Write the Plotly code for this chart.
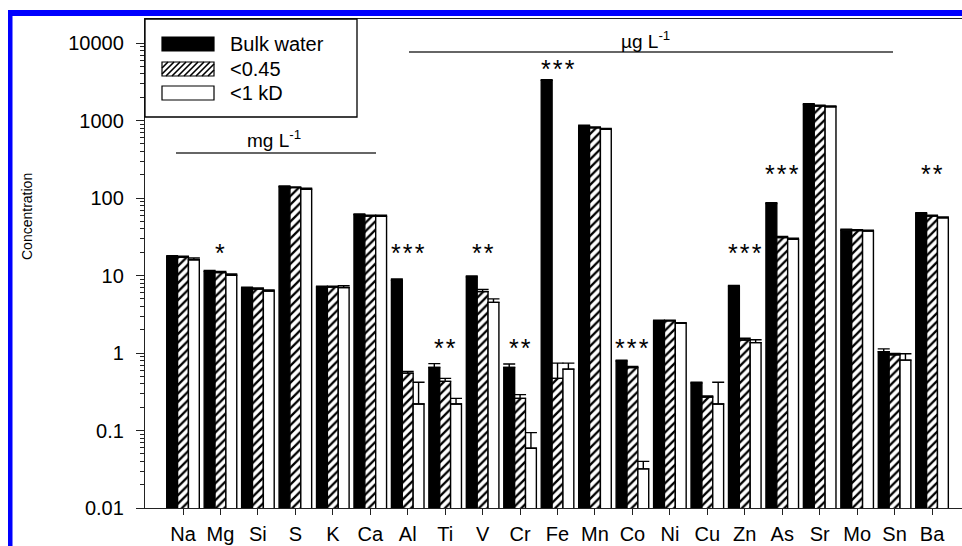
import plotly.graph_objects as go

# ---------------- data ----------------
elements = ["Na", "Mg", "Si", "S", "K", "Ca", "Al", "Ti", "V", "Cr", "Fe",
            "Mn", "Co", "Ni", "Cu", "Zn", "As", "Sr", "Mo", "Sn", "Ba"]
bulk_water = [17.5, 11.3, 6.9, 140, 7.1, 61, 8.7, 0.65, 9.6, 0.65, 3300,
              850, 0.79, 2.6, 0.41, 7.3, 85, 1610, 38.5, 1.04, 63]
filt_045 = [17.2, 10.9, 6.7, 136, 7.1, 58.5, 0.55, 0.43, 6.2, 0.26, 0.47,
            805, 0.65, 2.6, 0.27, 1.47, 31, 1540, 38, 0.95, 58.5]
filt_1kd = [16.0, 10.1, 6.3, 130, 7.0, 58, 0.22, 0.22, 4.5, 0.059, 0.62,
            770, 0.032, 2.42, 0.22, 1.36, 29.3, 1505, 37.5, 0.81, 55.5]
err_bulk = [0.5, 0.3, 0.15, 3, 0.2, 1.5, 0.3, 0.08, 0.3, 0.07, 60,
            20, 0.02, 0.05, 0.01, 0.15, 2, 40, 1, 0.09, 1.5]
err_045 = [0.5, 0.4, 0.2, 3, 0.2, 1.5, 0.03, 0.04, 0.4, 0.03, 0.27,
           20, 0.02, 0.05, 0.01, 0.08, 1, 40, 1, 0.04, 1.5]
err_1kd = [0.8, 0.4, 0.2, 4, 0.4, 2, 0.2, 0.04, 0.5, 0.035, 0.12,
           20, 0.008, 0.05, 0.2, 0.12, 1, 40, 1, 0.17, 1.5]
significance = ["", "*", "", "", "", "", "***", "**", "**", "**", "***",
                "", "***", "", "", "***", "***", "", "", "", "**"]
y_tickvals = [0.01, 0.1, 1, 10, 100, 1000, 10000]
y_ticktext = ["0.01", "0.1", "1", "10", "100", "1000", "10000"]

# ---------------- geometry helpers (pixels -> paper) ----------------
W, H = 962, 546
L, R, T, B = 145, 0, 19, 38
PW, PH = W - L - R, H - T - B


def px(x):
    return (x - L) / PW


def py(y):
    return (H - B - y) / PH


FONT = "Liberation Sans, Arial, sans-serif"

fig = go.Figure()
series = [
    ("Bulk water", bulk_water, err_bulk, dict(color="black")),
    ("<0.45", filt_045, err_045,
     dict(color="white", pattern=dict(shape="/", fgcolor="black", bgcolor="white",
                                      size=6, solidity=0.38, fillmode="replace"))),
    ("<1 kD", filt_1kd, err_1kd, dict(color="white")),
]
for name, vals, errs, mk in series:
    mk = dict(mk)
    mk["line"] = dict(color="black", width=1.4)
    fig.add_trace(go.Bar(
        x=elements, y=vals, name=name, marker=mk,
        error_y=dict(type="data", array=errs, arrayminus=[0] * len(errs),
                     symmetric=False, color="black", thickness=1.4, width=6),
        showlegend=False,
    ))

shapes = []
annotations = []

# significance stars
star_rows = {"Mg": 251, "Al": 251, "V": 251, "Zn": 251,
             "Ti": 346, "Cr": 346, "Co": 346,
             "As": 172, "Ba": 172, "Fe": 67}
for el, sig in zip(elements, significance):
    if sig:
        annotations.append(dict(
            x=el, xref="x", y=py(star_rows[el]), yref="paper",
            text="\u200a".join(sig), showarrow=False,
            xanchor="center", yanchor="middle", yshift=-2,
            font=dict(family=FONT, size=25, color="black")))

# unit bars
shapes.append(dict(type="line", xref="paper", yref="paper",
                   x0=px(176), x1=px(376), y0=py(153), y1=py(153),
                   line=dict(color="#333", width=1.6)))
shapes.append(dict(type="line", xref="paper", yref="paper",
                   x0=px(409), x1=px(893), y0=py(52), y1=py(52),
                   line=dict(color="#333", width=1.6)))
annotations.append(dict(x=px(274), y=py(139), xref="paper", yref="paper",
                        text="mg L<sup>-1</sup>", showarrow=False,
                        xanchor="center", yanchor="middle",
                        font=dict(family=FONT, size=19, color="black")))
annotations.append(dict(x=px(645), y=py(40), xref="paper", yref="paper",
                        text="\u00b5g L<sup>-1</sup>", showarrow=False,
                        xanchor="center", yanchor="middle",
                        font=dict(family=FONT, size=19, color="black")))

# manual legend
shapes.append(dict(type="rect", xref="paper", yref="paper",
                   x0=px(145), x1=px(357), y0=py(19), y1=py(117),
                   line=dict(color="black", width=1.3), fillcolor="white"))
sw_x0, sw_x1 = 162, 214
rows = [(37, 51), (62, 76), (86, 100)]
shapes.append(dict(type="rect", xref="paper", yref="paper",
                   x0=px(sw_x0), x1=px(sw_x1), y0=py(rows[0][1]), y1=py(rows[0][0]),
                   line=dict(color="black", width=1.2), fillcolor="black"))
for (t0, t1) in rows[1:]:
    shapes.append(dict(type="rect", xref="paper", yref="paper",
                       x0=px(sw_x0), x1=px(sw_x1), y0=py(t1), y1=py(t0),
                       line=dict(color="black", width=1.2), fillcolor="white"))
# hatch lines for the <0.45 swatch
t0, t1 = rows[1]
h = t1 - t0
c = sw_x0 - h
while c < sw_x1:
    xa, ya = c, t1
    xb, yb = c + h, t0
    if xa < sw_x0:
        ya = t1 - (sw_x0 - c)
        xa = sw_x0
    if xb > sw_x1:
        yb = t1 - (sw_x1 - c)
        xb = sw_x1
    if xb > xa:
        shapes.append(dict(type="line", xref="paper", yref="paper",
                           x0=px(xa), y0=py(ya), x1=px(xb), y1=py(yb),
                           line=dict(color="black", width=1.6)))
    c += 6
for (name, _, _, _), (r0, r1) in zip(series, rows):
    annotations.append(dict(x=px(228), y=py((r0 + r1) / 2), xref="paper", yref="paper",
                            text=name.replace("<", "&lt;"), showarrow=False,
                            xanchor="left", yanchor="middle",
                            font=dict(family=FONT, size=20, color="black")))

# y-axis title
annotations.append(dict(x=px(27), y=py(217), xref="paper", yref="paper",
                        text="Concentration", showarrow=False, textangle=-90,
                        xanchor="center", yanchor="middle",
                        font=dict(family=FONT, size=14, color="black")))

# blue frame
shapes.append(dict(type="rect", xref="paper", yref="paper",
                   x0=px(8), x1=px(12.5), y0=py(546), y1=py(10),
                   line=dict(width=0), fillcolor="#0000ff"))
shapes.append(dict(type="rect", xref="paper", yref="paper",
                   x0=px(8), x1=px(962), y0=py(16), y1=py(10),
                   line=dict(width=0), fillcolor="#0000ff"))

minor_vals = [m * 10 ** e for e in range(-2, 4) for m in range(2, 10)]

fig.update_layout(
    width=W, height=H,
    margin=dict(l=L, r=R, t=T, b=B, pad=0),
    paper_bgcolor="white", plot_bgcolor="white",
    barmode="group", bargap=0.13, bargroupgap=0,
    font=dict(family=FONT, size=20, color="black"),
    shapes=shapes, annotations=annotations,
    showlegend=False,
)
fig.update_xaxes(
    range=[-1.015, 20.8], showline=True, linecolor="#222", linewidth=1.3,
    mirror=True, ticks="outside", ticklen=6, tickcolor="#222", tickwidth=1.3,
    showgrid=False, zeroline=False, ticklabelstandoff=2,
    tickfont=dict(family=FONT, size=20, color="black"),
)
fig.update_yaxes(
    type="log", range=[-2, 4.31], showline=True, linecolor="#222", linewidth=1.3,
    tickmode="array", tickvals=y_tickvals, ticktext=y_ticktext,
    ticks="outside", ticklen=8, tickcolor="#222", tickwidth=1.3,
    minor=dict(tickvals=minor_vals, ticks="outside", ticklen=4,
               tickcolor="#222", tickwidth=1, showgrid=False),
    showgrid=False, zeroline=False, ticklabelstandoff=8,
    tickfont=dict(family=FONT, size=20, color="black"),
)

fig.write_html("out.html", config={"displayModeBar": False},
               post_script="document.body.style.margin='0';")
